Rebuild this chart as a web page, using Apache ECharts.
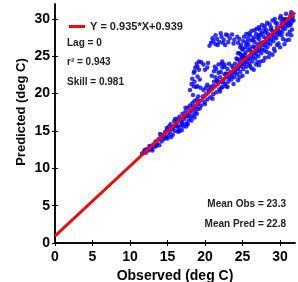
<!DOCTYPE html>
<html>
<head>
<meta charset="utf-8">
<script src="https://cdn.jsdelivr.net/npm/echarts@6/dist/echarts.min.js"></script>
<style>
  html, body { margin: 0; padding: 0; background: #fff; }
  #chart { width: 298px; height: 282px; }
</style>
</head>
<body>
<div id="chart"></div>
<script>
// fit line
var slope = 0.935;
var intercept = 0.939;
var fitLabel = 'Y = 0.935*X+0.939';
var statLines = ['Lag = 0', 'r\u00b2 = 0.943', 'Skill = 0.981'];
var meanLines = ['Mean Obs = 23.3', 'Mean Pred = 22.8'];
var tickValues = [0, 5, 10, 15, 20, 25, 30];
var xTitle = 'Observed (deg C)';
var yTitle = 'Predicted (deg C)';

// observed / predicted pairs
var pairs = [
    // lower tail
    [11.6,12.0],[11.9,12.3],[12.1,12.1],[12.3,12.6],[12.5,12.4],[12.7,12.9],[12.9,12.6],[13.1,13.2],
    [13.3,12.9],[13.4,13.6],[13.6,13.3],[13.8,13.9],[13.9,13.1],[14.1,14.2],[14.2,13.6],[14.4,14.5],
    [14.5,13.9],[14.7,14.9],[14.8,14.1],[15.0,15.2],[15.1,14.4],[12.0,12.5],[12.6,13.0],[13.0,12.4],
    [13.5,13.0],[14.0,14.6],[14.6,14.3],[15.2,15.6],
    [14.9,15.4],[15.5,14.2],[16.0,16.6],[16.6,15.0],[17.0,16.0],[17.4,18.1],[17.8,17.0],[18.4,18.2],
    [18.9,17.3],[19.3,18.0],[15.0,14.0],[16.3,15.6],[17.7,15.9],[18.6,16.8],
    // 15 - 19
    [15.3,14.8],[15.4,15.9],[15.6,15.2],[15.7,14.5],[15.9,16.3],[16.0,15.0],[16.1,15.8],[16.3,16.6],
    [16.4,14.9],[16.5,15.4],[16.6,16.9],[16.8,15.8],[16.9,16.2],[17.0,17.3],[17.1,15.6],[17.2,16.6],
    [17.4,17.6],[17.5,16.0],[17.6,17.0],[17.7,18.1],[17.8,16.4],[17.9,17.4],[18.0,18.4],[18.1,16.8],
    [18.2,17.7],[18.3,18.7],[18.4,17.1],[18.5,18.0],[18.6,19.0],[18.7,17.5],[18.8,18.3],[18.9,19.2],
    [19.0,17.9],[19.1,18.6],[16.2,16.0],[16.7,16.4],[17.3,16.9],[15.8,15.5],[16.9,15.1],[17.5,15.6],
    [18.2,16.4],
    // loop above the line
    [18.0,20.5],[18.2,21.3],[18.3,22.0],[18.5,22.8],[18.7,23.5],[18.9,24.0],[19.2,24.3],[19.5,24.2],
    [19.8,23.9],[20.0,23.2],[19.3,21.9],[19.0,22.3],[19.4,20.8],
    [19.8,20.5],[20.3,21.2],[20.9,22.4],[21.2,23.0],[21.5,23.3],[21.8,22.8],[22.0,22.2],
    [21.6,21.7],[22.3,23.5],[22.6,23.9],[18.4,19.8],[18.8,20.9],[19.1,19.6],[20.5,20.4],[21.0,21.0],
    [22.8,22.7],[23.0,23.3],[23.2,24.0],[18.6,21.6],
    [18.5,21.0],[19.0,21.0],[20.3,23.5],[21.4,22.2],[19.2,23.2],[20.1,20.8],
    [21.2,21.6],[22.1,22.9],[18.6,23.0],[19.0,23.6],[21.3,23.6],[21.8,23.9],[22.2,24.0],[20.4,24.1],
    // upper cluster
    [20.8,26.8],[21.1,27.0],[21.4,26.6],[21.6,27.3],[21.9,26.9],[22.2,27.6],[22.5,27.2],[22.7,26.5],
    [23.0,27.8],[23.3,27.4],[23.6,27.9],[22.1,28.1],[21.4,27.8],[23.8,26.7],[20.6,26.4],
    [21.7,26.5],[22.4,26.8],[23.1,26.9],[23.9,27.2],[24.4,26.8],[21.0,27.4],[22.8,27.9],
    [24.6,25.4],[25.0,25.9],[24.3,24.6],[25.3,25.2],[24.9,24.8],[22.3,24.3],[22.6,23.6],[24.7,26.2],
    [25.5,26.6],[24.8,26.5],[25.1,27.0],[24.6,27.3],[25.4,26.2],[25.7,27.4],[26.0,27.8],[24.3,27.6],
    // main band 19 - 23.5
    [19.3,19.0],[19.5,18.4],[19.7,19.6],[19.9,18.9],[20.1,19.9],[20.3,19.2],[20.5,20.3],[20.7,19.5],
    [20.9,20.6],[21.1,19.9],[21.3,21.0],[21.5,20.2],[21.7,21.3],[21.9,20.6],[22.1,21.6],[22.3,20.9],
    [22.5,21.9],[22.7,21.3],[22.9,22.2],[23.1,21.6],[23.3,22.5],[23.5,21.9],[20.0,18.6],[21.0,19.3],
    [22.0,20.3],[23.0,20.9],[20.6,20.9],[21.6,21.8],[22.6,22.6],
    [22.2,20.8],[22.4,21.5],[22.8,21.0],[23.2,22.1],
    // main band 23.5 - 27
    [23.7,22.9],[23.9,22.2],[24.1,23.2],[24.3,22.6],[24.5,23.6],[24.7,22.9],[24.9,24.0],[25.1,23.3],
    [25.3,24.3],[25.5,23.6],[25.7,24.7],[25.9,24.0],[26.1,25.0],[26.3,24.3],[26.5,25.4],[26.7,24.7],
    [26.9,25.7],[27.1,25.0],[23.8,21.3],[24.4,21.8],[25.0,22.4],[25.6,22.9],[26.2,23.4],[26.8,23.9],
    [24.0,24.0],[25.0,25.0],[26.0,26.0],[27.0,26.6],[24.6,24.5],[25.4,25.5],[26.4,26.3],[23.6,23.7],
    [24.2,24.7],[24.8,25.2],[25.8,26.5],[26.6,26.9],[25.2,24.7],[26.0,23.7],[24.6,22.2],[23.4,22.9],
    [23.6,22.4],[24.0,22.8],[24.4,23.3],[24.8,23.7],[25.2,23.9],[25.6,24.2],[26.0,24.6],[26.4,24.9],
    [26.8,25.3],[23.0,22.6],[23.8,23.4],[24.6,24.0],[25.4,24.8],[26.2,25.6],[25.0,26.0],[25.8,25.8],
    [26.6,26.2],[24.4,25.4],[25.6,26.9],[26.4,27.2],[26.5,23.2],[25.2,27.6],[25.9,28.1],[26.6,28.5],
    [26.1,27.1],
    // main band 27 - 32
    [27.3,26.1],[27.5,25.4],[27.7,26.5],[27.9,25.8],[28.1,26.9],[28.3,26.2],[28.5,27.3],[28.7,26.6],
    [28.9,27.8],[29.1,27.0],[29.3,28.2],[29.5,27.4],[29.7,28.6],[29.9,27.9],[30.1,29.0],[30.3,28.3],
    [30.5,29.4],[30.7,28.7],[30.9,29.8],[31.1,29.1],[31.3,30.1],[31.5,29.5],[31.7,30.3],[27.4,24.3],
    [28.0,24.8],[28.6,25.4],[29.2,26.0],[29.8,26.7],[30.4,27.3],[31.0,27.9],[31.6,28.6],[27.2,27.3],
    [27.8,27.6],[28.4,28.0],[29.0,28.4],[29.6,28.9],[30.2,29.6],[30.8,30.0],[31.4,30.5],[27.6,28.2],
    [28.2,28.5],[28.8,28.9],[26.8,28.0],[27.3,28.6],[28.0,29.1],[29.4,29.5],[30.0,30.1],[31.8,29.8],
    [30.6,26.6],[31.2,27.2],[29.0,25.2],[27.0,24.2],
    [25.5,28.0],[26.2,28.4],[26.9,28.7],[27.6,29.2],[28.3,29.5],[29.0,29.8],[26.5,27.5],[27.4,27.9],
    [27.2,25.7],[27.6,25.9],[28.0,26.4],[28.4,26.8],[28.8,27.2],[29.2,27.5],[29.6,27.9],[30.0,28.3],
    [30.4,28.8],[30.8,29.2],[31.2,29.6],[31.6,29.9],[27.8,26.9],[28.6,27.7],[29.4,28.3],[30.2,29.1],
    [31.0,29.5],[27.4,26.8],[28.2,27.4],[29.0,27.9],[29.8,28.4],[30.6,29.9],[31.4,29.2],[27.2,27.8],
    [28.0,28.2],[28.8,28.6],[29.6,29.4],[30.4,30.0],[27.2,23.8],[27.8,24.4],[28.5,24.9],[29.3,25.7],
    [30.0,26.2],[30.8,27.1],[31.5,27.8],[28.2,25.6],[29.6,26.5],[30.2,27.8],[31.3,28.3],[27.2,28.9],
    [27.9,28.7],[28.6,29.3],[29.3,30.0],[30.1,30.4],[30.8,30.7],[31.5,30.9],[27.0,27.5]
];

var fitLine = [[0, intercept], [32, slope * 32 + intercept]];

var font = '"Liberation Sans", Arial, sans-serif';
var chart = echarts.init(document.getElementById('chart'));

function axisBase(showLabel) {
    return {
        type: 'value', min: 0, max: 32, interval: 5,
        axisLine: { show: true, lineStyle: { color: '#000', width: 1.5 } },
        axisTick: { show: true, inside: true, length: 3, customValues: tickValues,
            lineStyle: { color: '#000', width: 1 } },
        axisLabel: { show: showLabel, color: '#000', fontSize: 14, fontWeight: 'bold', fontFamily: font,
            customValues: tickValues },
        splitLine: { show: false }
    };
}

var xBottom = axisBase(true);
xBottom.position = 'bottom';
xBottom.name = xTitle;
xBottom.nameLocation = 'middle';
xBottom.nameGap = 25;
xBottom.nameTextStyle = { color: '#000', fontSize: 14, fontWeight: 'bold', fontFamily: font };
xBottom.axisLabel.margin = 7;

var xTop = axisBase(false);
xTop.position = 'top';

var yLeft = axisBase(true);
yLeft.position = 'left';
yLeft.axisLabel.margin = 5;

var yRight = axisBase(false);
yRight.position = 'right';

var graphics = [{
    type: 'text', x: 21, y: 112, rotation: Math.PI / 2,
    style: { text: yTitle, fill: '#000', font: 'bold 13px ' + font, align: 'center', verticalAlign: 'middle' }
}];
statLines.forEach(function (t, i) {
    graphics.push({ type: 'text', left: 67, top: 38 + i * 19.5,
        style: { text: t, fill: '#222', font: 'bold 10px ' + font } });
});
meanLines.forEach(function (t, i) {
    graphics.push({ type: 'text', right: 12, top: 199 + i * 20,
        style: { text: t, fill: '#222', font: 'bold 10px ' + font } });
});

chart.setOption({
    animation: false,
    grid: { left: 55, right: 3, top: 4, bottom: 39, containLabel: false, outerBoundsMode: 'none' },
    xAxis: [xBottom, xTop],
    yAxis: [yLeft, yRight],
    legend: {
        left: 64, top: 16, itemWidth: 16, itemHeight: 3, itemGap: 4,
        textStyle: { color: '#222', fontSize: 11, fontWeight: 'bold', fontFamily: font },
        data: [{ name: fitLabel, icon: 'rect' }]
    },
    graphic: graphics,
    series: [
        {
            type: 'scatter', name: 'data', data: pairs,
            symbol: 'circle', symbolSize: 4.5,
            itemStyle: { color: '#0000ff' }, z: 2
        },
        {
            type: 'line', name: fitLabel, data: fitLine,
            symbol: 'none', lineStyle: { color: '#ff0000', width: 3 },
            itemStyle: { color: '#ff0000' }, z: 3
        }
    ]
});
</script>
</body>
</html>
